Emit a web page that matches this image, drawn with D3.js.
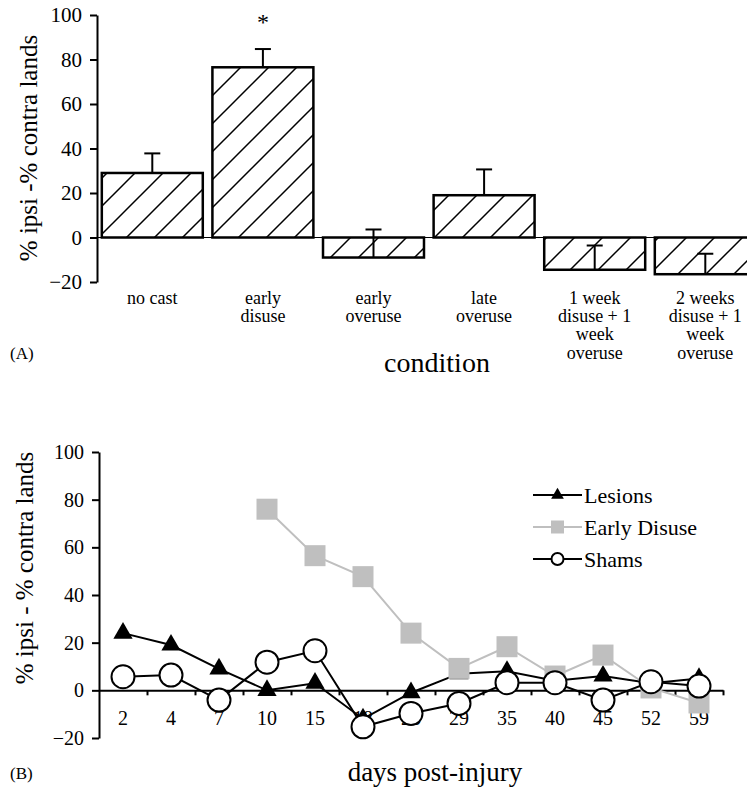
<!DOCTYPE html>
<html>
<head>
<meta charset="utf-8">
<script src="https://cdn.jsdelivr.net/npm/d3@7"></script>
<style>
body { margin: 0; background: #fff; }
svg { display: block; overflow: hidden; }
</style>
</head>
<body>
<svg id="chart"></svg>
<script>
//Panel A data
var conditions = ["no cast", "early disuse", "early overuse", "late overuse", "1 week disuse + 1 week overuse", "2 weeks disuse + 1 week overuse"]
var conditionLines = [["no cast"], ["early", "disuse"], ["early", "overuse"], ["late", "overuse"], ["1 week", "disuse + 1", "week", "overuse"], ["2 weeks", "disuse + 1", "week", "overuse"]]
var meanDiff = [29, 76.5, -9, 19, -14.5, -16.5]
var semDiff = [8.8, 8.2, 12.6, 11.6, 10.9, 9.2]
var yTicksA = [-20, 0, 20, 40, 60, 80, 100]

//Panel B data
var days = ["2", "4", "7", "10", "15", "18", "23", "29", "35", "40", "45", "52", "59"]
var lesions = [24, 19, 9, 0, 3, -12, -1, 7, 8, 4, 6, 3, 5]
var earlyDisuse = [null, null, null, 76, 56.5, 47.7, 24, 9.2, 18.3, 6, 14.8, 1, -5.3]
var shams = [5.7, 6.4, -4.1, 11.8, 16.6, -15.3, -9.7, -5.5, 3.2, 3.2, -4.1, 3.6, 1.8]
var yTicksB = [-20, 0, 20, 40, 60, 80, 100]
var seriesNames = ["Lesions", "Early Disuse", "Shams"]

var font = "Liberation Serif"

var svg = d3.select("#chart")
.attr("width", 747)
.attr("height", 796)
.attr("font-family", font)

//hatch fill for the bars
svg.append("defs")
.append("pattern")
.attr("id", "hatch")
.attr("patternUnits", "userSpaceOnUse")
.attr("width", 28)
.attr("height", 28)
.append("path")
.attr("d", "M0,28 L28,0 M-7,7 L7,-7 M21,35 L35,21")
.style("stroke", "#000")
.style("stroke-width", 1.5)

// ---------- Panel A ----------
var xA = d3.scaleBand().domain(conditions).range([97, 97 + 6 * 110.6])
var yA = d3.scaleLinear().domain([-20, 100]).range([282, 15])
var barW = xA.bandwidth() * 0.913

var gA = svg.append("g").attr("id", "panel-a")

//zero line
gA.append("line")
.attr("x1", 97).attr("x2", 760)
.attr("y1", yA(0)).attr("y2", yA(0))
.style("stroke", "#000")
.style("stroke-width", 1.2)

//bars
gA.selectAll("rect.bar")
.data(meanDiff)
.enter()
.append("rect")
.attr("class", "bar")
.attr("x", function(d, i){ return xA(conditions[i]) + (xA.bandwidth() - barW) / 2 })
.attr("y", function(d){ return yA(Math.max(0, d)) })
.attr("width", barW)
.attr("height", function(d){ return Math.abs(yA(d) - yA(0)) })
.style("fill", "url(#hatch)")
.style("stroke", "#000")
.style("stroke-width", 2.5)

//error bars (plus side only)
var errs = gA.selectAll("g.err")
.data(meanDiff)
.enter()
.append("g")
.attr("class", "err")
.attr("transform", function(d, i){ return "translate(" + (xA(conditions[i]) + xA.bandwidth() / 2) + ",0)" })

errs.append("line")
.attr("x1", 0).attr("x2", 0)
.attr("y1", function(d){ return yA(d) })
.attr("y2", function(d, i){ return yA(d + semDiff[i]) })
.style("stroke", "#000").style("stroke-width", 2)

errs.append("line")
.attr("x1", -8).attr("x2", 8)
.attr("y1", function(d, i){ return yA(d + semDiff[i]) })
.attr("y2", function(d, i){ return yA(d + semDiff[i]) })
.style("stroke", "#000").style("stroke-width", 2)

//y axis
var yAxisA = d3.axisLeft(yA).tickValues(yTicksA).tickSize(7).tickSizeOuter(0).tickPadding(8)
gA.append("g")
.attr("transform", "translate(97,0)")
.call(yAxisA)
.call(function(g){
  g.attr("font-family", font).attr("font-size", 21)
  g.selectAll("path, line").style("stroke", "#000").style("stroke-width", 2)
  g.selectAll("text").style("fill", "#000")
})

//category labels
gA.selectAll("text.cat")
.data(conditionLines)
.enter()
.append("text")
.attr("class", "cat")
.attr("text-anchor", "middle")
.attr("font-size", 18)
.attr("transform", function(d, i){ return "translate(" + (xA(conditions[i]) + xA.bandwidth() / 2) + ",304)" })
.selectAll("tspan")
.data(function(d){ return d })
.enter()
.append("tspan")
.attr("x", 0)
.attr("y", function(d, i){ return i * 18.2 })
.text(function(d){ return d })

//significance star
gA.append("text")
.attr("x", xA("early disuse") + xA.bandwidth() / 2)
.attr("y", 30)
.attr("text-anchor", "middle")
.attr("font-size", 24)
.text("*")

gA.append("text")
.attr("transform", "translate(37,148) rotate(-90)")
.attr("text-anchor", "middle")
.attr("font-size", 25)
.text("% ipsi -% contra lands")

gA.append("text")
.attr("x", 437).attr("y", 372)
.attr("text-anchor", "middle")
.attr("font-size", 28)
.text("condition")

gA.append("text")
.attr("x", 10).attr("y", 359)
.attr("font-size", 17)
.text("(A)")

// ---------- Panel B ----------
var xB = d3.scaleBand().domain(days).range([99, 723])
var yB = d3.scaleLinear().domain([-20, 100]).range([738, 452])
var cx = function(i){ return xB(days[i]) + xB.bandwidth() / 2 }

var gB = svg.append("g").attr("id", "panel-b")

//x axis on the zero line, ticks between categories
var boundary = d3.scaleLinear().domain([0, days.length]).range([99, 723])
var xAxisB = d3.axisBottom(boundary).tickValues(d3.range(1, days.length + 1)).tickFormat("").tickSize(5).tickSizeOuter(0)
gB.append("g")
.attr("transform", "translate(0," + yB(0) + ")")
.call(xAxisB)
.call(function(g){ g.selectAll("path, line").style("stroke", "#000").style("stroke-width", 2) })

gB.selectAll("text.day")
.data(days)
.enter()
.append("text")
.attr("class", "day")
.attr("x", function(d, i){ return cx(i) })
.attr("y", 725)
.attr("text-anchor", "middle")
.attr("font-size", 20)
.text(function(d){ return d })

//y axis
var yAxisB = d3.axisLeft(yB).tickValues(yTicksB).tickSize(7).tickSizeOuter(0).tickPadding(8)
gB.append("g")
.attr("transform", "translate(99,0)")
.call(yAxisB)
.call(function(g){
  g.attr("font-family", font).attr("font-size", 20)
  g.selectAll("path, line").style("stroke", "#000").style("stroke-width", 2)
  g.selectAll("text").style("fill", "#000")
})

var line = d3.line()
.defined(function(d){ return d != null })
.x(function(d, i){ return cx(i) })
.y(function(d){ return yB(d) })

//Lesions
gB.append("path")
.datum(lesions)
.attr("d", line)
.style("fill", "none").style("stroke", "#000").style("stroke-width", 2)

gB.selectAll("path.tri")
.data(lesions)
.enter()
.append("path")
.attr("class", "tri")
.attr("d", d3.symbol().type(d3.symbolTriangle).size(160))
.attr("transform", function(d, i){ return "translate(" + cx(i) + "," + yB(d) + ")" })
.style("fill", "#000")

//Early Disuse
gB.append("path")
.datum(earlyDisuse)
.attr("d", line)
.style("fill", "none").style("stroke", "#bfbfbf").style("stroke-width", 2)

gB.selectAll("rect.sq")
.data(earlyDisuse.map(function(d, i){ return {v: d, i: i} }).filter(function(d){ return d.v != null }))
.enter()
.append("rect")
.attr("class", "sq")
.attr("x", function(d){ return cx(d.i) - 10.5 })
.attr("y", function(d){ return yB(d.v) - 10.5 })
.attr("width", 21).attr("height", 21)
.style("fill", "#bfbfbf")

//Shams
gB.append("path")
.datum(shams)
.attr("d", line)
.style("fill", "none").style("stroke", "#000").style("stroke-width", 2)

gB.selectAll("circle.sham")
.data(shams)
.enter()
.append("circle")
.attr("class", "sham")
.attr("cx", function(d, i){ return cx(i) })
.attr("cy", function(d){ return yB(d) })
.attr("r", 11.5)
.style("fill", "#fff").style("stroke", "#000").style("stroke-width", 2)

//legend
var legend = gB.selectAll("g.leg")
.data(seriesNames)
.enter()
.append("g")
.attr("class", "leg")
.attr("transform", function(d, i){ return "translate(533," + (495 + i * 32) + ")" })

legend.append("line")
.attr("x1", 0).attr("x2", 49)
.style("stroke", function(d, i){ return i == 1 ? "#bfbfbf" : "#000" })
.style("stroke-width", 2)

legend.each(function(d, i){
  var g = d3.select(this)
  if (i == 0) g.append("path").attr("d", d3.symbol().type(d3.symbolTriangle).size(70)).attr("transform", "translate(24.5,0)").style("fill", "#000")
  if (i == 1) g.append("rect").attr("x", 18).attr("y", -6.5).attr("width", 13).attr("height", 13).style("fill", "#bfbfbf")
  if (i == 2) g.append("circle").attr("cx", 24.5).attr("r", 6).style("fill", "#fff").style("stroke", "#000").style("stroke-width", 2)
})

legend.append("text")
.attr("x", 51)
.attr("dy", "0.35em")
.attr("font-size", 22)
.text(function(d){ return d })

gB.append("text")
.attr("transform", "translate(33,568) rotate(-90)")
.attr("text-anchor", "middle")
.attr("font-size", 25)
.text("% ipsi - % contra lands")

gB.append("text")
.attr("x", 435).attr("y", 781)
.attr("text-anchor", "middle")
.attr("font-size", 27)
.text("days post-injury")

gB.append("text")
.attr("x", 10).attr("y", 779)
.attr("font-size", 17)
.text("(B)")
</script>
</body>
</html>
